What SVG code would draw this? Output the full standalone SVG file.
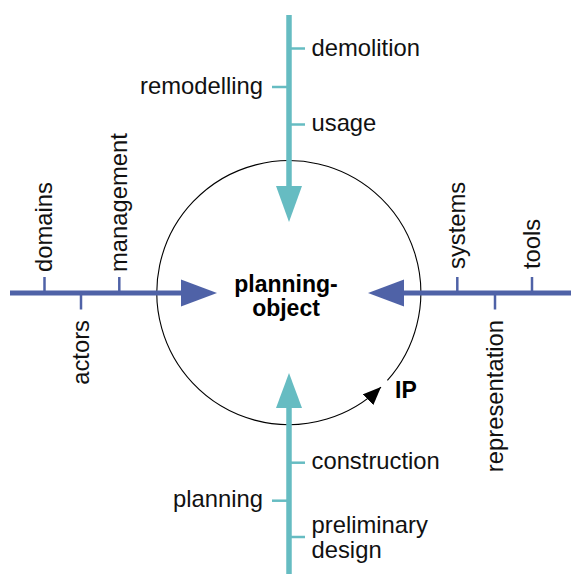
<svg xmlns="http://www.w3.org/2000/svg" width="571" height="574" viewBox="0 0 571 574">
  <style>
    .lbl { font-family: "Liberation Sans", Arial, Helvetica, sans-serif; font-size: 23.8px; fill: #111; }
    .bold { font-family: "Liberation Sans", Arial, Helvetica, sans-serif; font-size: 23px; font-weight: bold; fill: #000; }
    .teal { stroke: #66bcc2; stroke-width: 5.5; fill: none; }
    .teal-head { fill: #66bcc2; }
    .blue { stroke: #4f62a7; stroke-width: 5; fill: none; }
    .blue-head { fill: #4f62a7; }
    .tick-t { stroke: #66bcc2; stroke-width: 2.5; }
    .tick-b { stroke: #4f62a7; stroke-width: 2.5; }
  </style>
  <defs>
    <marker id="ip-head" markerUnits="userSpaceOnUse" markerWidth="20" markerHeight="16" refX="18" refY="7.5" orient="auto">
      <path d="M0,0 L18,7.5 L0,15 z" fill="#000"/>
    </marker>
  </defs>

  <rect width="571" height="574" fill="#fff"/>

  <!-- central object with the iterative planning cycle -->
  <g id="planning-object">
    <path d="M387.4,380.4 A132,132 0 1 0 381,387.1" fill="none" stroke="#000" stroke-width="1.1" marker-end="url(#ip-head)"/>
    <text class="bold" x="286" y="292" text-anchor="middle">planning-</text>
    <text class="bold" x="286" y="316" text-anchor="middle">object</text>
    <text class="bold" x="395" y="398">IP</text>
  </g>

  <!-- the four axes pointing at the object -->
  <g id="connectors">
    <line class="teal" x1="289" y1="15" x2="289" y2="190"/>
    <polygon class="teal-head" points="276,186 302,186 289,222"/>
    <line class="teal" x1="289" y1="574" x2="289" y2="404"/>
    <polygon class="teal-head" points="276,408 302,408 289,373"/>
    <line class="blue" x1="10" y1="293" x2="185" y2="293"/>
    <polygon class="blue-head" points="181,279.5 181,306.5 217,293"/>
    <line class="blue" x1="571" y1="293" x2="400" y2="293"/>
    <polygon class="blue-head" points="404,279.5 404,306.5 368,293"/>
  </g>

  <!-- life-cycle phases (top) -->
  <g id="demolition">
    <line class="tick-t" x1="289" y1="48.5" x2="305" y2="48.5"/>
    <text class="lbl" x="311.5" y="56">demolition</text>
  </g>
  <g id="remodelling">
    <line class="tick-t" x1="272" y1="87" x2="289" y2="87"/>
    <text class="lbl" x="263" y="94" text-anchor="end">remodelling</text>
  </g>
  <g id="usage">
    <line class="tick-t" x1="289" y1="124.5" x2="305" y2="124.5"/>
    <text class="lbl" x="311.5" y="131">usage</text>
  </g>

  <!-- life-cycle phases (bottom) -->
  <g id="construction">
    <line class="tick-t" x1="289" y1="462.7" x2="305" y2="462.7"/>
    <text class="lbl" x="311.5" y="469">construction</text>
  </g>
  <g id="planning">
    <line class="tick-t" x1="272" y1="500.7" x2="289" y2="500.7"/>
    <text class="lbl" x="263" y="507" text-anchor="end">planning</text>
  </g>
  <g id="preliminary-design">
    <line class="tick-t" x1="289" y1="537" x2="305" y2="537"/>
    <text class="lbl" x="311.5" y="533">preliminary</text>
    <text class="lbl" x="311.5" y="557.5">design</text>
  </g>

  <!-- organisational aspects (left) -->
  <g id="domains">
    <line class="tick-b" x1="44.5" y1="277" x2="44.5" y2="293"/>
    <text class="lbl" transform="translate(51.5,272) rotate(-90)">domains</text>
  </g>
  <g id="actors">
    <line class="tick-b" x1="81" y1="293" x2="81" y2="309.5"/>
    <text class="lbl" transform="translate(88.5,320) rotate(-90)" text-anchor="end">actors</text>
  </g>
  <g id="management">
    <line class="tick-b" x1="119.3" y1="277" x2="119.3" y2="293"/>
    <text class="lbl" transform="translate(126.5,272) rotate(-90)">management</text>
  </g>

  <!-- technical aspects (right) -->
  <g id="systems">
    <line class="tick-b" x1="457.3" y1="277" x2="457.3" y2="293"/>
    <text class="lbl" transform="translate(464.5,269) rotate(-90)">systems</text>
  </g>
  <g id="representation">
    <line class="tick-b" x1="495" y1="293" x2="495" y2="309.5"/>
    <text class="lbl" transform="translate(502.5,320) rotate(-90)" text-anchor="end">representation</text>
  </g>
  <g id="tools">
    <line class="tick-b" x1="532" y1="277" x2="532" y2="293"/>
    <text class="lbl" transform="translate(539.5,269) rotate(-90)">tools</text>
  </g>
</svg>
